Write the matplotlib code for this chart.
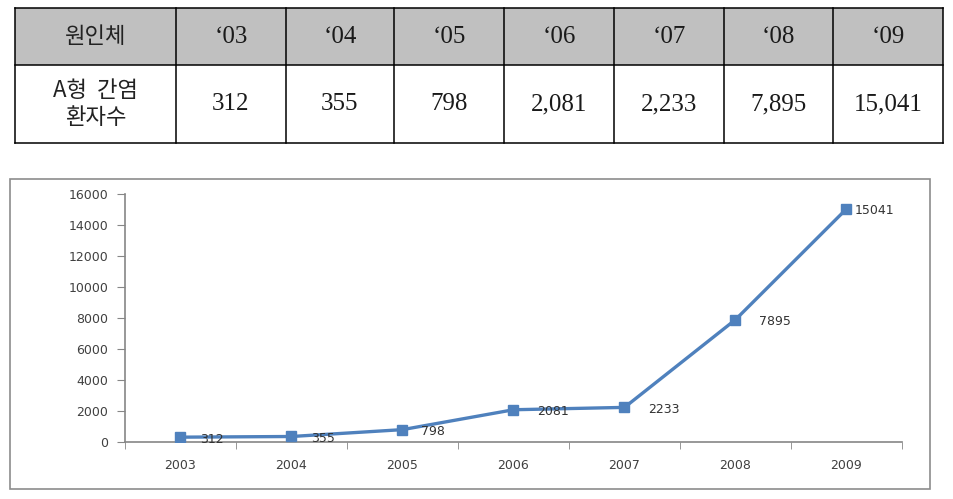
import matplotlib.pyplot as plt
from matplotlib.patches import Rectangle
from matplotlib.ticker import FixedLocator, NullFormatter

# Data
years = ["2003", "2004", "2005", "2006", "2007", "2008", "2009"]
short_years = ["‘03", "‘04", "‘05", "‘06", "‘07", "‘08", "‘09"]
patients = [312, 355, 798, 2081, 2233, 7895, 15041]
table_values = ["312", "355", "798", "2,081", "2,233", "7,895", "15,041"]
header_label = "원인체"
row_label = "A형  간염\n환자수"

W, H = 954, 499
fig = plt.figure(figsize=(W / 100, H / 100), dpi=100)

# Background layer in pixel units (table + chart frame)
bg = fig.add_axes([0, 0, 1, 1])
bg.set_xlim(0, W)
bg.set_ylim(H, 0)
bg.axis("off")

kr = ["Noto Sans CJK KR", "DejaVu Sans"]
serif = ["Liberation Serif", "DejaVu Serif"]

# Table geometry
col_edges = [15, 176, 286, 394, 504, 614, 724, 833, 943]
row_edges = [8, 65, 143]

bg.add_patch(Rectangle((col_edges[0], row_edges[0]), col_edges[-1] - col_edges[0],
                       row_edges[1] - row_edges[0], facecolor="#c0c0c0", edgecolor="none"))
for xe in col_edges:
    bg.plot([xe, xe], [row_edges[0], row_edges[-1]], color="black", lw=1.1)
for ye in row_edges:
    bg.plot([col_edges[0], col_edges[-1]], [ye, ye], color="black", lw=1.1)

head_y = (row_edges[0] + row_edges[1]) / 2
body_y = (row_edges[1] + row_edges[2]) / 2
bg.text((col_edges[0] + col_edges[1]) / 2, head_y, header_label, ha="center", va="center",
        fontsize=16, family=kr, color="#222222", weight="light")
bg.text((col_edges[0] + col_edges[1]) / 2, body_y, row_label, ha="center", va="center",
        fontsize=16, family=kr, color="#222222", linespacing=1.2, weight="light")
for i, (lab, val) in enumerate(zip(short_years, table_values)):
    cx = (col_edges[i + 1] + col_edges[i + 2]) / 2
    bg.text(cx, head_y, lab, ha="center", va="center", fontsize=18, family=serif, color="#1a1a1a")
    bg.text(cx, body_y, val, ha="center", va="center", fontsize=18, family=serif, color="#1a1a1a")

# Chart frame
bg.add_patch(Rectangle((10, 179), 920, 310, facecolor="none", edgecolor="#8c8c8c", lw=1.2))

# Line chart
ax = fig.add_axes([125 / W, (H - 442) / H, 777 / W, (442 - 194) / H])
x = list(range(len(years)))
ax.plot(x, patients, color="#4f81bd", lw=2.4, marker="s", markersize=6.5, zorder=3)

label_dx = [14, 14, 13, 17, 17, 17, 6]
for xi, v, dx in zip(x, patients, label_dx):
    ax.annotate(str(v), (xi, v), xytext=(dx, -1.5), textcoords="offset points",
                ha="left", va="center", fontsize=9, color="#333333", zorder=4)

ax.set_xlim(-0.5, len(years) - 0.5)
ax.set_ylim(0, 16000)
ax.set_yticks(range(0, 16001, 2000))
ax.set_xticks(x)
ax.set_xticklabels(years)
ax.xaxis.set_minor_locator(FixedLocator([i - 0.5 for i in range(len(years) + 1)]))
ax.xaxis.set_minor_formatter(NullFormatter())

ax.tick_params(axis="x", which="major", length=0, pad=12, labelsize=9, labelcolor="#404040")
ax.tick_params(axis="x", which="minor", length=5, color="#868686", direction="out")
ax.tick_params(axis="y", length=6, color="#868686", direction="out", pad=6,
               labelsize=9, labelcolor="#404040")

for side in ["top", "right"]:
    ax.spines[side].set_visible(False)
for side in ["left", "bottom"]:
    ax.spines[side].set_color("#868686")
    ax.spines[side].set_linewidth(1.2)
ax.patch.set_alpha(0)

fig.savefig("out.png", dpi=100)
